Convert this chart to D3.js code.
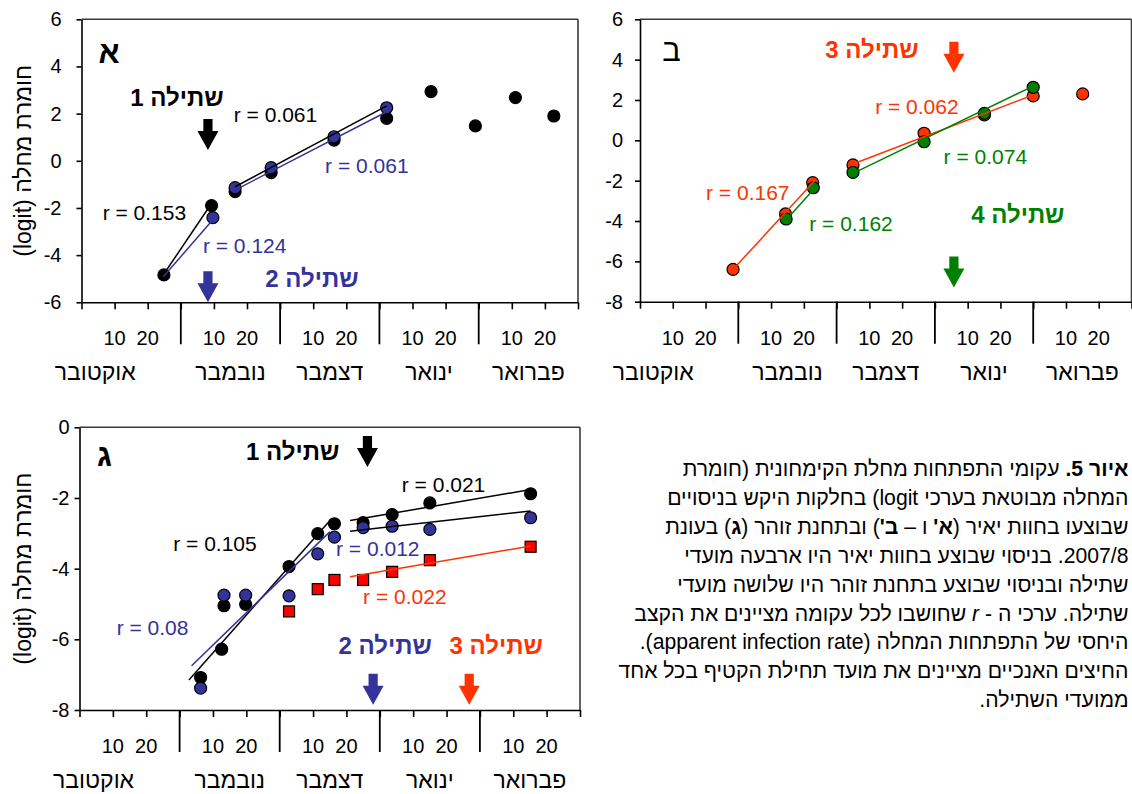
<!DOCTYPE html>
<html><head><meta charset="utf-8">
<script src="https://cdn.jsdelivr.net/npm/d3@7"></script>
<style>
body{margin:0;background:#fff;}
#wrap{position:relative;width:1132px;height:794px;overflow:hidden;background:#fff;}
svg{position:absolute;left:0;top:0;}
svg text{font-family:"Liberation Sans",Arial,"DejaVu Sans",sans-serif;}
#caption{position:absolute;right:3.5px;top:455px;font-family:"Liberation Sans",Arial,sans-serif;font-size:21.2px;line-height:28.9px;text-align:right;white-space:nowrap;color:#000;}
</style></head><body>
<div id="wrap"><svg id="chart" width="1132" height="794"></svg><div id="caption" dir="rtl"></div></div>
<script>
// ---------- tick labels ----------
const months = ["אוקטובר","נובמבר","דצמבר","ינואר","פברואר"];
const dayTicks = [10, 20];
const yTicksAB = [6,4,2,0,-2,-4,-6];
const yTicksB = [6,4,2,0,-2,-4,-6,-8];
const yTicksC = [0,-2,-4,-6,-8];
const yTitle = "חומרת מחלה (logit)";

// ---------- panel A (days since 1 Oct, logit) ----------
const aBlackDays = [24.9,39.3,46.4,57.3,76.3,92.2,105.6,119.0,131.1,142.7];
const aBlackVals = [-4.84,-1.90,-1.31,-0.50,0.88,1.80,2.93,1.48,2.68,1.90];
const aBlueDays  = [39.7,46.4,57.3,76.3,92.2];
const aBlueVals  = [-2.41,-1.14,-0.29,1.02,2.25];
const aFitBlack  = [[24.7,-4.84,38.6,-1.95],[46.4,-1.10,92.2,2.33]];
const aFitBlue   = [[24.7,-4.92,39.8,-2.48],[46.4,-1.24,92.2,2.08]];
const aRates     = ["r = 0.153","r = 0.061","r = 0.124","r = 0.061"];

// ---------- panel B ----------
const bRedDays   = [28.4,44.4,52.7,65.0,86.7,105.1,120.0,135.1];
const bRedVals   = [-6.40,-3.65,-2.10,-1.22,0.35,1.26,2.20,2.30];
const bGreenDays = [44.6,52.9,65.0,86.7,105.1,120.0];
const bGreenVals = [-3.90,-2.35,-1.59,-0.07,1.34,2.63];
const bFitRed    = [[28.4,-6.40,53.5,-1.97],[65.0,-1.17,120.0,2.25]];
const bFitGreen  = [[44.6,-3.95,53.7,-2.30],[65.0,-1.64,120.0,2.69]];
const bRates     = ["r = 0.167","r = 0.062","r = 0.162","r = 0.074"];

// ---------- panel C ----------
const cBlackDays = [36.3,42.6,43.3,49.8,62.8,71.4,76.4,85.0,93.7,105.0,135.2];
const cBlackVals = [-7.08,-6.28,-5.05,-5.01,-3.94,-3.01,-2.73,-2.70,-2.47,-2.14,-1.88];
const cBlueDays  = [36.3,43.3,49.8,62.8,71.4,76.4,85.0,93.7,105.0,135.2];
const cBlueVals  = [-7.38,-4.75,-4.75,-4.77,-3.58,-3.11,-2.84,-2.80,-2.89,-2.56];
const cRedDays   = [62.8,71.4,76.4,85.0,93.7,105.0,135.2];
const cRedVals   = [-5.21,-4.58,-4.32,-4.32,-4.09,-3.76,-3.38];
const cFitBlack  = [[32.8,-7.15,75.6,-2.58],[81.1,-2.64,135.2,-1.76]];
const cFitBlue   = [[33.6,-6.75,75.0,-2.96],[81.1,-2.94,135.2,-2.37]];
const cFitRed    = [[81.1,-4.23,135.2,-3.36]];
const cRates     = ["r = 0.105","r = 0.021","r = 0.08","r = 0.012","r = 0.022"];

// ---------- planting labels & harvest arrows ----------
const plantings = ["שתילה 1","שתילה 2","שתילה 3","שתילה 4"];
const aArrowDays = [38.2, 38.2];
const bArrowDays = [95.8, 95.8];
const cArrowDays = [86.3, 88.0, 116.8];

// ---------- caption ----------
const captionLines = [
  "<b>איור 5.</b> עקומי התפתחות מחלת הקימחונית (חומרת",
  "המחלה מבוטאת בערכי logit) בחלקות היקש בניסויים",
  "שבוצעו בחוות יאיר (<b>א'</b> ו – <b>ב'</b>) ובתחנת זוהר (<b>ג</b>) בעונת",
  "2007/8. בניסוי שבוצע בחוות יאיר היו ארבעה מועדי",
  "שתילה ובניסוי שבוצע בתחנת זוהר היו שלושה מועדי",
  "שתילה. ערכי ה - <i>r</i> שחושבו לכל עקומה מציינים את הקצב",
  "היחסי של התפתחות המחלה (apparent infection rate).",
  "החיצים האנכיים מציינים את מועד תחילת הקטיף בכל אחד",
  "ממועדי השתילה."
];

const BLUE="#333399", RED="#ff3300", GREEN="#008000", SQ="#ff0000", BLACK="#000";
const svg = d3.select("#chart");

function zip(ds, vs){ return ds.map((d,i)=>({d, v:vs[i]})); }

function drawPanel(cfg){
  const g = svg.append("g");
  const x = d3.scaleLinear().domain([0,150]).range([cfg.left, cfg.right]);
  const y = d3.scaleLinear().domain(cfg.yDomain).range([cfg.bottom, cfg.top]);
  // frame top/right
  g.append("line").attr("x1",cfg.left).attr("x2",cfg.right).attr("y1",cfg.top).attr("y2",cfg.top)
    .attr("stroke","#3a3a3a").attr("stroke-width",1.6);
  g.append("line").attr("x1",cfg.right).attr("x2",cfg.right).attr("y1",cfg.top).attr("y2",cfg.bottom)
    .attr("stroke","#3a3a3a").attr("stroke-width",1.6);
  // y axis
  const ya = g.append("g").attr("transform",`translate(${cfg.left},0)`)
    .call(d3.axisLeft(y).tickValues(cfg.yTicks).tickSize(5).tickSizeOuter(0).tickPadding(cfg.yPad).tickFormat(d=>String(d)));
  ya.selectAll("text").attr("font-size",20).attr("fill","#000").attr("font-family",'"Liberation Sans",Arial,sans-serif');
  ya.selectAll("line,path").attr("stroke","#000").attr("stroke-width",1.6);
  // x axis
  const xa = g.append("g").attr("transform",`translate(0,${cfg.bottom})`)
    .call(d3.axisBottom(x).tickValues(d3.range(0,151,10)).tickSize(7).tickSizeOuter(0).tickFormat(""));
  xa.selectAll("line,path").attr("stroke","#000").attr("stroke-width",1.6);
  g.selectAll(".mb").data([30,60,90,120]).join("line")
    .attr("x1",d=>x(d)).attr("x2",d=>x(d)).attr("y1",cfg.bottom).attr("y2",cfg.bottom+42)
    .attr("stroke","#000").attr("stroke-width",1.8);
  months.forEach((m,i)=>{
    dayTicks.forEach(t=>{
      g.append("text").attr("x",x(i*30+t)).attr("y",cfg.bottom+43).attr("text-anchor","middle")
        .attr("font-size",20).text(t);
    });
    g.append("text").attr("x",x(i*30+15)+(i===0?-36:0)).attr("y",cfg.bottom+78).attr("text-anchor","middle")
      .attr("font-size",23).attr("direction","rtl").text(m);
  });
  if(cfg.title){
    g.append("text").attr("transform",`translate(23,${(cfg.top+cfg.bottom)/2}) rotate(-90)`)
      .attr("text-anchor","middle").attr("dominant-baseline","central").attr("direction","rtl")
      .attr("font-size",23).text(yTitle);
  }
  // points
  cfg.series.forEach(s=>{
    const pts = zip(s.days, s.vals);
    if(s.square){
      g.selectAll(null).data(pts).join("rect")
        .attr("x",p=>x(p.d)-5.5).attr("y",p=>y(p.v)-5.5).attr("width",11).attr("height",11)
        .attr("fill",s.color).attr("stroke","#000").attr("stroke-width",1.2);
    } else {
      g.selectAll(null).data(pts).join("circle")
        .attr("cx",p=>x(p.d)).attr("cy",p=>y(p.v)).attr("r",6)
        .attr("fill",s.color).attr("stroke","#000").attr("stroke-width",1.2);
    }
  });
  // fitted lines
  cfg.fits.forEach(f=>{
    g.selectAll(null).data(f.segs).join("line")
      .attr("x1",s=>x(s[0])).attr("y1",s=>y(s[1])).attr("x2",s=>x(s[2])).attr("y2",s=>y(s[3]))
      .attr("stroke",f.color).attr("stroke-width",1.5);
  });
  // arrows (tip at data point, pointing down)
  cfg.arrows.forEach(a=>{
    const tx=x(a.d), ty=y(a.v);
    const p=d3.path();
    p.moveTo(tx-4.6,ty-31); p.lineTo(tx+4.6,ty-31); p.lineTo(tx+4.6,ty-19);
    p.lineTo(tx+10.5,ty-19); p.lineTo(tx,ty); p.lineTo(tx-10.5,ty-19); p.lineTo(tx-4.6,ty-19); p.closePath();
    g.append("path").attr("d",p.toString()).attr("fill",a.color);
  });
  // annotations
  cfg.notes.forEach(n=>{
    g.append("text").attr("x",x(n.d)).attr("y",y(n.v)).attr("text-anchor","middle")
      .attr("dominant-baseline","central").attr("direction","rtl")
      .attr("font-size",n.size).attr("font-weight",n.bold?"bold":"normal").attr("fill",n.color).text(n.t);
  });
}

// Panel A
drawPanel({
  left:81.5, right:578, top:19.3, bottom:302.3, yDomain:[-6,6], yTicks:yTicksAB, yPad:15, title:true,
  series:[{days:aBlackDays,vals:aBlackVals,color:BLACK},{days:aBlueDays,vals:aBlueVals,color:BLUE}],
  fits:[{segs:aFitBlack,color:BLACK},{segs:aFitBlue,color:BLUE}],
  arrows:[{d:aArrowDays[0],v:0.46,color:BLACK},{d:aArrowDays[1],v:-6,color:BLUE}],
  notes:[
    {t:"א",d:8.3,v:4.6,size:31,bold:true,color:BLACK},
    {t:plantings[0],d:28.8,v:2.68,size:24,bold:true,color:BLACK},
    {t:plantings[1],d:69.6,v:-5.0,size:24,bold:true,color:BLUE},
    {t:aRates[0],d:19.0,v:-2.2,size:21,color:BLACK},
    {t:aRates[1],d:58.6,v:1.98,size:21,color:BLACK},
    {t:aRates[2],d:49.3,v:-3.58,size:21,color:BLUE},
    {t:aRates[3],d:86.2,v:-0.2,size:21,color:BLUE}
  ]
});

// Panel B
drawPanel({
  left:640, right:1131.5, top:19.3, bottom:301.7, yDomain:[-8,6], yTicks:yTicksB, yPad:12, title:false,
  series:[{days:bRedDays,vals:bRedVals,color:RED},{days:bGreenDays,vals:bGreenVals,color:GREEN}],
  fits:[{segs:bFitRed,color:RED},{segs:bFitGreen,color:GREEN}],
  arrows:[{d:bArrowDays[0],v:3.35,color:RED},{d:bArrowDays[1],v:-7.3,color:GREEN}],
  notes:[
    {t:"ב",d:9.6,v:4.45,size:31,bold:false,color:BLACK},
    {t:plantings[2],d:70.8,v:4.5,size:24,bold:true,color:RED},
    {t:plantings[3],d:115.3,v:-3.7,size:24,bold:true,color:GREEN},
    {t:bRates[0],d:32.9,v:-2.6,size:21,color:RED},
    {t:bRates[1],d:84.5,v:1.7,size:21,color:RED},
    {t:bRates[2],d:64.4,v:-4.1,size:21,color:GREEN},
    {t:bRates[3],d:105.4,v:-0.82,size:21,color:GREEN}
  ]
});

// Panel C
drawPanel({
  left:79.5, right:580, top:427.3, bottom:710, yDomain:[-8,0], yTicks:yTicksC, yPad:5, title:true,
  series:[{days:cBlackDays,vals:cBlackVals,color:BLACK},{days:cBlueDays,vals:cBlueVals,color:BLUE},
          {days:cRedDays,vals:cRedVals,color:SQ,square:true}],
  fits:[{segs:cFitBlack,color:BLACK},{segs:[cFitBlue[0]],color:BLUE},{segs:[cFitBlue[1]],color:BLACK},{segs:cFitRed,color:RED}],
  arrows:[{d:cArrowDays[0],v:-1.12,color:BLACK},{d:cArrowDays[1],v:-7.85,color:BLUE},{d:cArrowDays[2],v:-7.85,color:RED}],
  notes:[
    {t:"ג",d:7.5,v:-0.8,size:31,bold:true,color:BLACK},
    {t:plantings[0],d:63.9,v:-0.68,size:24,bold:true,color:BLACK},
    {t:plantings[1],d:91.6,v:-6.18,size:24,bold:true,color:BLUE},
    {t:plantings[2],d:124.9,v:-6.18,size:24,bold:true,color:RED},
    {t:cRates[0],d:40.6,v:-3.28,size:21,color:BLACK},
    {t:cRates[1],d:109.1,v:-1.61,size:21,color:BLACK},
    {t:cRates[2],d:21.9,v:-5.67,size:21,color:BLUE},
    {t:cRates[3],d:89.4,v:-3.44,size:21,color:BLUE},
    {t:cRates[4],d:97.5,v:-4.79,size:21,color:RED}
  ]
});

d3.select("#caption").selectAll("div").data(captionLines).join("div").html(d=>d);
</script>
</body></html>
